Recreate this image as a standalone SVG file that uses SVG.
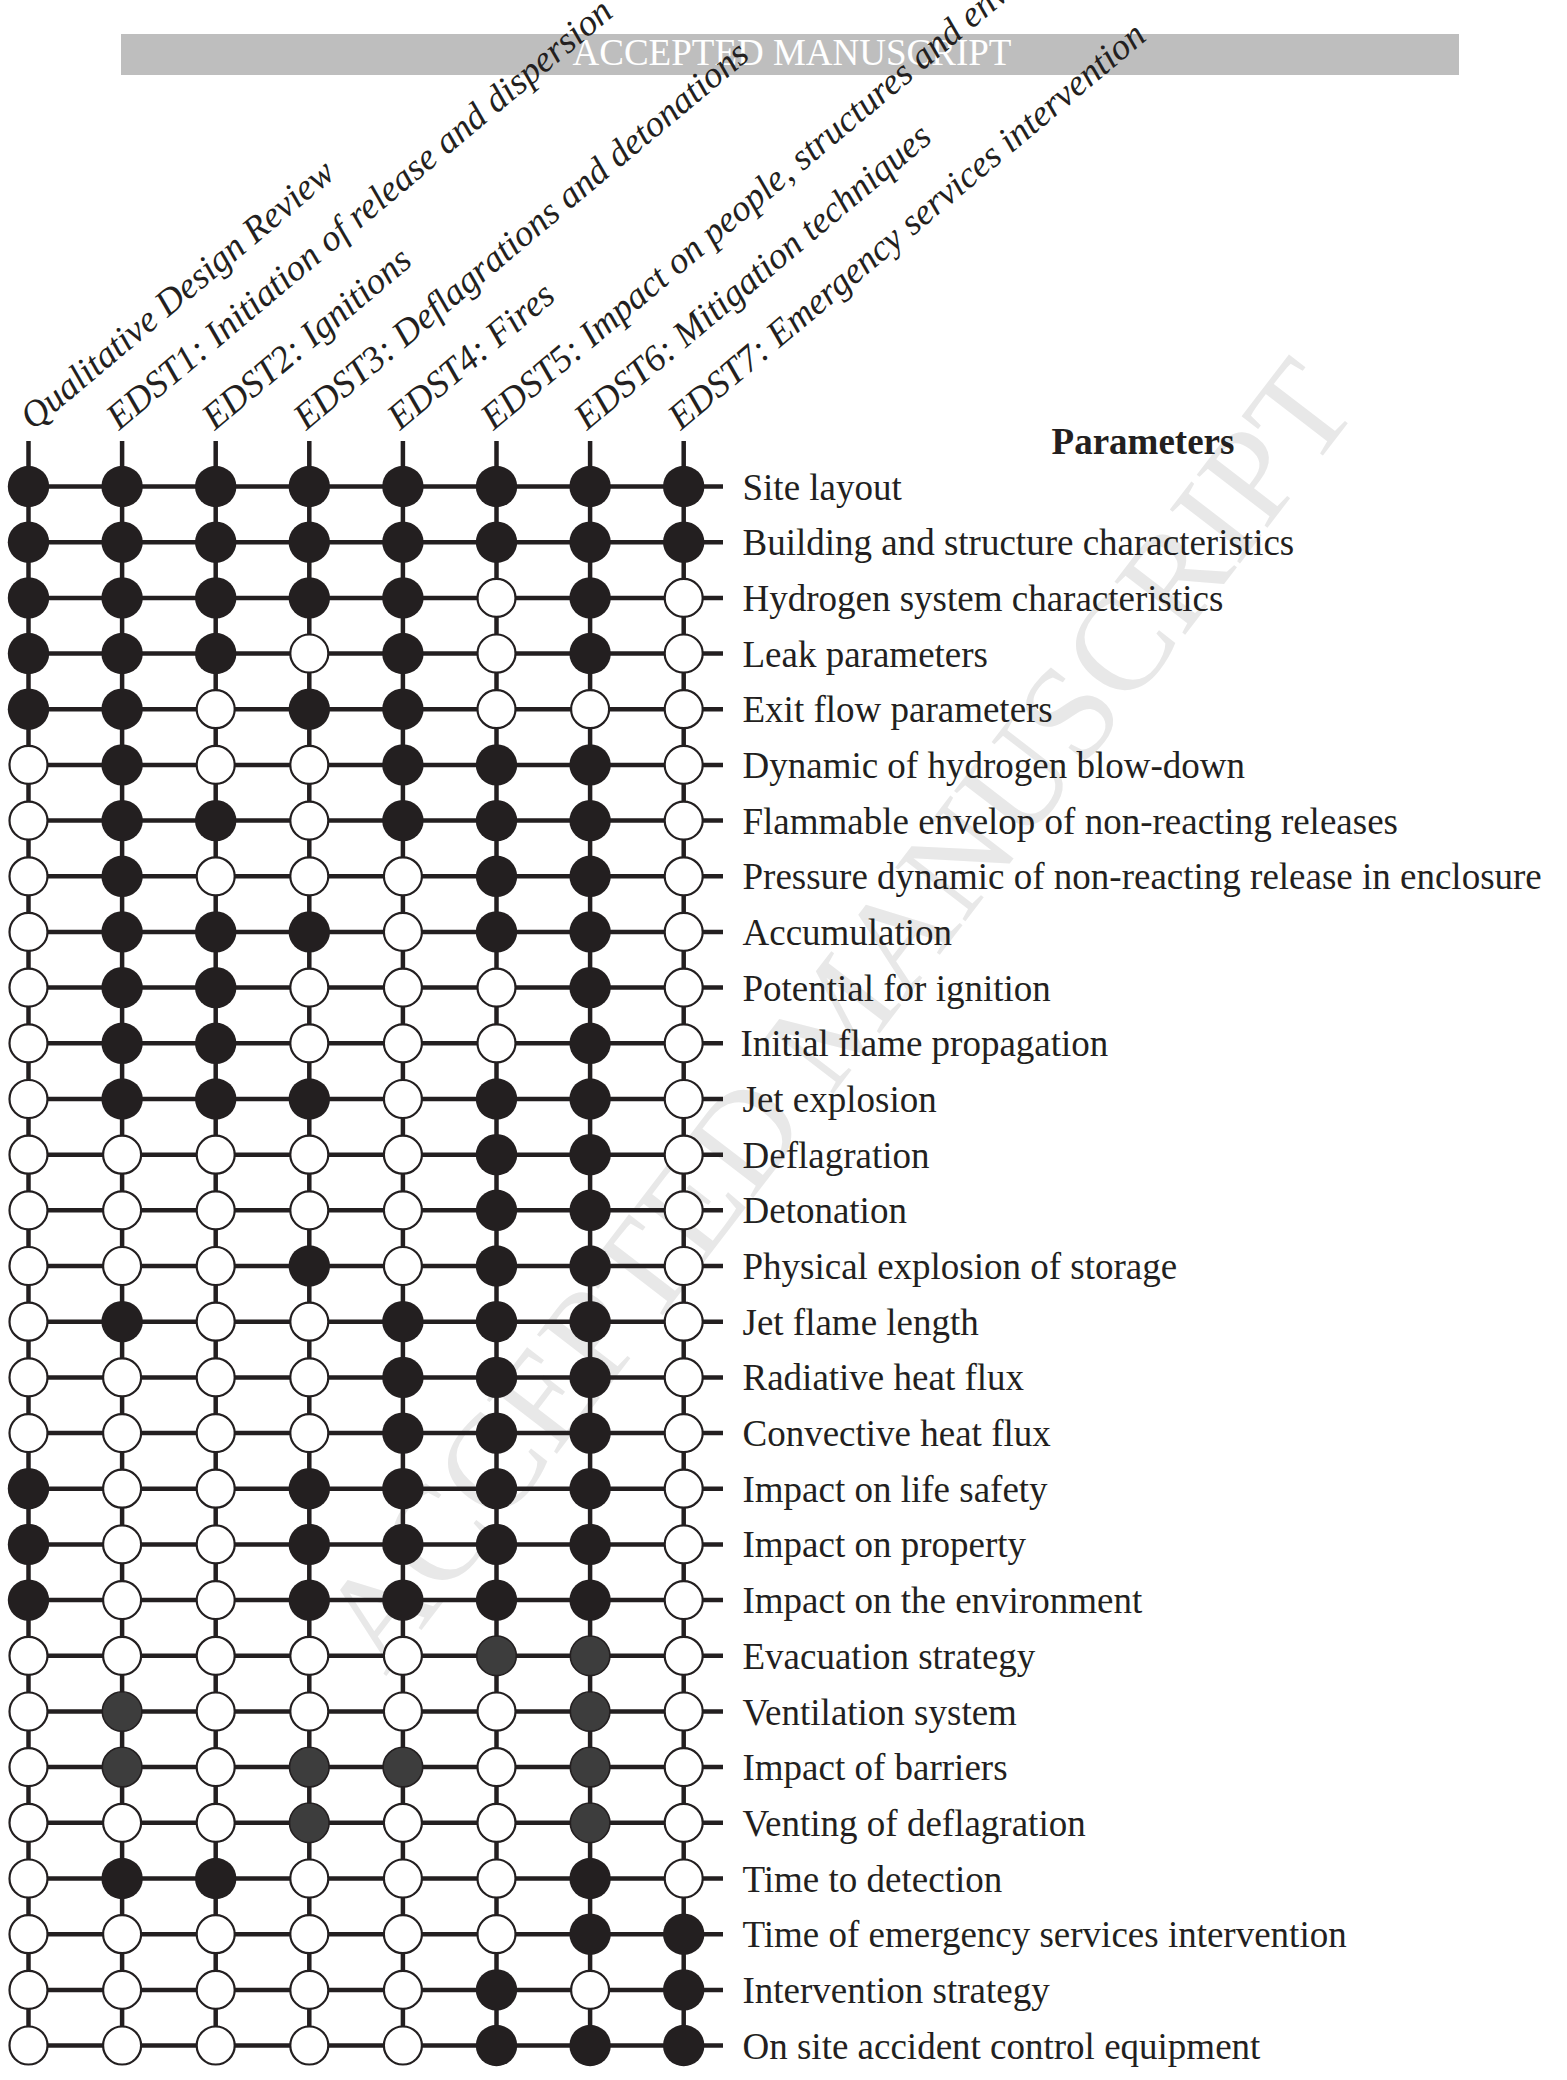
<svg xmlns="http://www.w3.org/2000/svg" width="1567" height="2080" viewBox="0 0 1567 2080">
<style>
.lbl{font-family:"Liberation Serif","Times New Roman",serif;font-size:37px;fill:#231f20}
.hdr{font-family:"Liberation Serif","Times New Roman",serif;font-size:37px;font-style:italic;fill:#231f20}
.ttl{font-family:"Liberation Serif","Times New Roman",serif;font-size:37px;font-weight:bold;fill:#231f20}
.wm{font-family:"Liberation Serif","Times New Roman",serif;font-size:135px;fill:#e8e8e8}
.bartxt{font-family:"Liberation Serif","Times New Roman",serif;font-size:37px;fill:#ffffff}
.ln{stroke:#231f20;stroke-width:4.5;fill:none}
</style>
<defs>
<circle id="F" r="20.7" fill="#231f20"/>
<circle id="O" r="19" fill="#ffffff" stroke="#231f20" stroke-width="2.2"/>
<circle id="G" r="19.8" fill="#3d3d3d" stroke="#231f20" stroke-width="1.6"/>
</defs>
<rect width="1567" height="2080" fill="#ffffff"/>
<g id="watermark"><text class="wm" text-anchor="middle" transform="translate(838 1015) rotate(-52.5)" dy="44">ACCEPTED MANUSCRIPT</text></g>
<g id="banner"><rect x="121" y="34" width="1338" height="41" fill="#bebebe"/><text class="bartxt" x="792" y="65" text-anchor="middle">ACCEPTED MANUSCRIPT</text></g>
<g id="connectors">
<line class="ln" x1="28.5" y1="441" x2="28.5" y2="2045.5"/>
<line class="ln" x1="122.1" y1="441" x2="122.1" y2="2045.5"/>
<line class="ln" x1="215.7" y1="441" x2="215.7" y2="2045.5"/>
<line class="ln" x1="309.3" y1="441" x2="309.3" y2="2045.5"/>
<line class="ln" x1="402.9" y1="441" x2="402.9" y2="2045.5"/>
<line class="ln" x1="496.5" y1="441" x2="496.5" y2="2045.5"/>
<line class="ln" x1="590.1" y1="441" x2="590.1" y2="2045.5"/>
<line class="ln" x1="683.7" y1="441" x2="683.7" y2="2045.5"/>
<line class="ln" x1="28.5" y1="486.5" x2="723" y2="486.5"/>
<line class="ln" x1="28.5" y1="542.2" x2="723" y2="542.2"/>
<line class="ln" x1="28.5" y1="597.9" x2="723" y2="597.9"/>
<line class="ln" x1="28.5" y1="653.5" x2="723" y2="653.5"/>
<line class="ln" x1="28.5" y1="709.2" x2="723" y2="709.2"/>
<line class="ln" x1="28.5" y1="764.9" x2="723" y2="764.9"/>
<line class="ln" x1="28.5" y1="820.6" x2="723" y2="820.6"/>
<line class="ln" x1="28.5" y1="876.3" x2="723" y2="876.3"/>
<line class="ln" x1="28.5" y1="931.9" x2="723" y2="931.9"/>
<line class="ln" x1="28.5" y1="987.6" x2="723" y2="987.6"/>
<line class="ln" x1="28.5" y1="1043.3" x2="723" y2="1043.3"/>
<line class="ln" x1="28.5" y1="1099" x2="723" y2="1099"/>
<line class="ln" x1="28.5" y1="1154.7" x2="723" y2="1154.7"/>
<line class="ln" x1="28.5" y1="1210.3" x2="723" y2="1210.3"/>
<line class="ln" x1="28.5" y1="1266" x2="723" y2="1266"/>
<line class="ln" x1="28.5" y1="1321.7" x2="723" y2="1321.7"/>
<line class="ln" x1="28.5" y1="1377.4" x2="723" y2="1377.4"/>
<line class="ln" x1="28.5" y1="1433.1" x2="723" y2="1433.1"/>
<line class="ln" x1="28.5" y1="1488.7" x2="723" y2="1488.7"/>
<line class="ln" x1="28.5" y1="1544.4" x2="723" y2="1544.4"/>
<line class="ln" x1="28.5" y1="1600.1" x2="723" y2="1600.1"/>
<line class="ln" x1="28.5" y1="1655.8" x2="723" y2="1655.8"/>
<line class="ln" x1="28.5" y1="1711.5" x2="723" y2="1711.5"/>
<line class="ln" x1="28.5" y1="1767.1" x2="723" y2="1767.1"/>
<line class="ln" x1="28.5" y1="1822.8" x2="723" y2="1822.8"/>
<line class="ln" x1="28.5" y1="1878.5" x2="723" y2="1878.5"/>
<line class="ln" x1="28.5" y1="1934.2" x2="723" y2="1934.2"/>
<line class="ln" x1="28.5" y1="1989.9" x2="723" y2="1989.9"/>
<line class="ln" x1="28.5" y1="2045.5" x2="723" y2="2045.5"/>
</g>
<g id="column-headers">
<g id="h0"><text class="hdr" transform="translate(33 431) rotate(-40)">Qualitative Design Review</text></g>
<g id="h1"><text class="hdr" transform="translate(119 431) rotate(-40)">EDST1: Initiation of release and dispersion</text></g>
<g id="h2"><text class="hdr" transform="translate(214.7 431) rotate(-40)">EDST2: Ignitions</text></g>
<g id="h3"><text class="hdr" transform="translate(306.3 431) rotate(-40)">EDST3: Deflagrations and detonations</text></g>
<g id="h4"><text class="hdr" transform="translate(399.9 431) rotate(-40)">EDST4: Fires</text></g>
<g id="h5"><text class="hdr" transform="translate(493.5 431) rotate(-40)">EDST5: Impact on people, structures and environment</text></g>
<g id="h6"><text class="hdr" transform="translate(587.1 431) rotate(-40)">EDST6: Mitigation techniques</text></g>
<g id="h7"><text class="hdr" transform="translate(680.7 431) rotate(-40)">EDST7: Emergency services intervention</text></g>
</g>
<g id="title"><text class="ttl" x="1143" y="453.5" text-anchor="middle">Parameters</text></g>
<g id="row-labels">
<g id="l0"><text class="lbl" x="742.5" y="499.5">Site layout</text></g>
<g id="l1"><text class="lbl" x="742.5" y="555.2">Building and structure characteristics</text></g>
<g id="l2"><text class="lbl" x="742.5" y="610.9">Hydrogen system characteristics</text></g>
<g id="l3"><text class="lbl" x="742.5" y="666.5">Leak parameters</text></g>
<g id="l4"><text class="lbl" x="742.5" y="722.2">Exit flow parameters</text></g>
<g id="l5"><text class="lbl" x="742.5" y="777.9">Dynamic of hydrogen blow-down</text></g>
<g id="l6"><text class="lbl" x="742.5" y="833.6">Flammable envelop of non-reacting releases</text></g>
<g id="l7"><text class="lbl" x="742.5" y="889.3">Pressure dynamic of non-reacting release in enclosure</text></g>
<g id="l8"><text class="lbl" x="742.5" y="944.9">Accumulation</text></g>
<g id="l9"><text class="lbl" x="742.5" y="1000.6">Potential for ignition</text></g>
<g id="l10"><text class="lbl" x="740.5" y="1056.3">Initial flame propagation</text></g>
<g id="l11"><text class="lbl" x="742.5" y="1112">Jet explosion</text></g>
<g id="l12"><text class="lbl" x="742.5" y="1167.7">Deflagration</text></g>
<g id="l13"><text class="lbl" x="742.5" y="1223.3">Detonation</text></g>
<g id="l14"><text class="lbl" x="742.5" y="1279">Physical explosion of storage</text></g>
<g id="l15"><text class="lbl" x="742.5" y="1334.7">Jet flame length</text></g>
<g id="l16"><text class="lbl" x="742.5" y="1390.4">Radiative heat flux</text></g>
<g id="l17"><text class="lbl" x="742.5" y="1446.1">Convective heat flux</text></g>
<g id="l18"><text class="lbl" x="742.5" y="1501.7">Impact on life safety</text></g>
<g id="l19"><text class="lbl" x="742.5" y="1557.4">Impact on property</text></g>
<g id="l20"><text class="lbl" x="742.5" y="1613.1">Impact on the environment</text></g>
<g id="l21"><text class="lbl" x="742.5" y="1668.8">Evacuation strategy</text></g>
<g id="l22"><text class="lbl" x="742.5" y="1724.5">Ventilation system</text></g>
<g id="l23"><text class="lbl" x="742.5" y="1780.1">Impact of barriers</text></g>
<g id="l24"><text class="lbl" x="742.5" y="1835.8">Venting of deflagration</text></g>
<g id="l25"><text class="lbl" x="742.5" y="1891.5">Time to detection</text></g>
<g id="l26"><text class="lbl" x="742.5" y="1947.2">Time of emergency services intervention</text></g>
<g id="l27"><text class="lbl" x="742.5" y="2002.9">Intervention strategy</text></g>
<g id="l28"><text class="lbl" x="742.5" y="2058.5">On site accident control equipment</text></g>
</g>
<g id="nodes">
<g id="n0-0"><use href="#F" x="28.5" y="486.5"/></g><g id="n0-1"><use href="#F" x="122.1" y="486.5"/></g><g id="n0-2"><use href="#F" x="215.7" y="486.5"/></g><g id="n0-3"><use href="#F" x="309.3" y="486.5"/></g><g id="n0-4"><use href="#F" x="402.9" y="486.5"/></g><g id="n0-5"><use href="#F" x="496.5" y="486.5"/></g><g id="n0-6"><use href="#F" x="590.1" y="486.5"/></g><g id="n0-7"><use href="#F" x="683.7" y="486.5"/></g>
<g id="n1-0"><use href="#F" x="28.5" y="542.2"/></g><g id="n1-1"><use href="#F" x="122.1" y="542.2"/></g><g id="n1-2"><use href="#F" x="215.7" y="542.2"/></g><g id="n1-3"><use href="#F" x="309.3" y="542.2"/></g><g id="n1-4"><use href="#F" x="402.9" y="542.2"/></g><g id="n1-5"><use href="#F" x="496.5" y="542.2"/></g><g id="n1-6"><use href="#F" x="590.1" y="542.2"/></g><g id="n1-7"><use href="#F" x="683.7" y="542.2"/></g>
<g id="n2-0"><use href="#F" x="28.5" y="597.9"/></g><g id="n2-1"><use href="#F" x="122.1" y="597.9"/></g><g id="n2-2"><use href="#F" x="215.7" y="597.9"/></g><g id="n2-3"><use href="#F" x="309.3" y="597.9"/></g><g id="n2-4"><use href="#F" x="402.9" y="597.9"/></g><g id="n2-5"><use href="#O" x="496.5" y="597.9"/></g><g id="n2-6"><use href="#F" x="590.1" y="597.9"/></g><g id="n2-7"><use href="#O" x="683.7" y="597.9"/></g>
<g id="n3-0"><use href="#F" x="28.5" y="653.5"/></g><g id="n3-1"><use href="#F" x="122.1" y="653.5"/></g><g id="n3-2"><use href="#F" x="215.7" y="653.5"/></g><g id="n3-3"><use href="#O" x="309.3" y="653.5"/></g><g id="n3-4"><use href="#F" x="402.9" y="653.5"/></g><g id="n3-5"><use href="#O" x="496.5" y="653.5"/></g><g id="n3-6"><use href="#F" x="590.1" y="653.5"/></g><g id="n3-7"><use href="#O" x="683.7" y="653.5"/></g>
<g id="n4-0"><use href="#F" x="28.5" y="709.2"/></g><g id="n4-1"><use href="#F" x="122.1" y="709.2"/></g><g id="n4-2"><use href="#O" x="215.7" y="709.2"/></g><g id="n4-3"><use href="#F" x="309.3" y="709.2"/></g><g id="n4-4"><use href="#F" x="402.9" y="709.2"/></g><g id="n4-5"><use href="#O" x="496.5" y="709.2"/></g><g id="n4-6"><use href="#O" x="590.1" y="709.2"/></g><g id="n4-7"><use href="#O" x="683.7" y="709.2"/></g>
<g id="n5-0"><use href="#O" x="28.5" y="764.9"/></g><g id="n5-1"><use href="#F" x="122.1" y="764.9"/></g><g id="n5-2"><use href="#O" x="215.7" y="764.9"/></g><g id="n5-3"><use href="#O" x="309.3" y="764.9"/></g><g id="n5-4"><use href="#F" x="402.9" y="764.9"/></g><g id="n5-5"><use href="#F" x="496.5" y="764.9"/></g><g id="n5-6"><use href="#F" x="590.1" y="764.9"/></g><g id="n5-7"><use href="#O" x="683.7" y="764.9"/></g>
<g id="n6-0"><use href="#O" x="28.5" y="820.6"/></g><g id="n6-1"><use href="#F" x="122.1" y="820.6"/></g><g id="n6-2"><use href="#F" x="215.7" y="820.6"/></g><g id="n6-3"><use href="#O" x="309.3" y="820.6"/></g><g id="n6-4"><use href="#F" x="402.9" y="820.6"/></g><g id="n6-5"><use href="#F" x="496.5" y="820.6"/></g><g id="n6-6"><use href="#F" x="590.1" y="820.6"/></g><g id="n6-7"><use href="#O" x="683.7" y="820.6"/></g>
<g id="n7-0"><use href="#O" x="28.5" y="876.3"/></g><g id="n7-1"><use href="#F" x="122.1" y="876.3"/></g><g id="n7-2"><use href="#O" x="215.7" y="876.3"/></g><g id="n7-3"><use href="#O" x="309.3" y="876.3"/></g><g id="n7-4"><use href="#O" x="402.9" y="876.3"/></g><g id="n7-5"><use href="#F" x="496.5" y="876.3"/></g><g id="n7-6"><use href="#F" x="590.1" y="876.3"/></g><g id="n7-7"><use href="#O" x="683.7" y="876.3"/></g>
<g id="n8-0"><use href="#O" x="28.5" y="931.9"/></g><g id="n8-1"><use href="#F" x="122.1" y="931.9"/></g><g id="n8-2"><use href="#F" x="215.7" y="931.9"/></g><g id="n8-3"><use href="#F" x="309.3" y="931.9"/></g><g id="n8-4"><use href="#O" x="402.9" y="931.9"/></g><g id="n8-5"><use href="#F" x="496.5" y="931.9"/></g><g id="n8-6"><use href="#F" x="590.1" y="931.9"/></g><g id="n8-7"><use href="#O" x="683.7" y="931.9"/></g>
<g id="n9-0"><use href="#O" x="28.5" y="987.6"/></g><g id="n9-1"><use href="#F" x="122.1" y="987.6"/></g><g id="n9-2"><use href="#F" x="215.7" y="987.6"/></g><g id="n9-3"><use href="#O" x="309.3" y="987.6"/></g><g id="n9-4"><use href="#O" x="402.9" y="987.6"/></g><g id="n9-5"><use href="#O" x="496.5" y="987.6"/></g><g id="n9-6"><use href="#F" x="590.1" y="987.6"/></g><g id="n9-7"><use href="#O" x="683.7" y="987.6"/></g>
<g id="n10-0"><use href="#O" x="28.5" y="1043.3"/></g><g id="n10-1"><use href="#F" x="122.1" y="1043.3"/></g><g id="n10-2"><use href="#F" x="215.7" y="1043.3"/></g><g id="n10-3"><use href="#O" x="309.3" y="1043.3"/></g><g id="n10-4"><use href="#O" x="402.9" y="1043.3"/></g><g id="n10-5"><use href="#O" x="496.5" y="1043.3"/></g><g id="n10-6"><use href="#F" x="590.1" y="1043.3"/></g><g id="n10-7"><use href="#O" x="683.7" y="1043.3"/></g>
<g id="n11-0"><use href="#O" x="28.5" y="1099"/></g><g id="n11-1"><use href="#F" x="122.1" y="1099"/></g><g id="n11-2"><use href="#F" x="215.7" y="1099"/></g><g id="n11-3"><use href="#F" x="309.3" y="1099"/></g><g id="n11-4"><use href="#O" x="402.9" y="1099"/></g><g id="n11-5"><use href="#F" x="496.5" y="1099"/></g><g id="n11-6"><use href="#F" x="590.1" y="1099"/></g><g id="n11-7"><use href="#O" x="683.7" y="1099"/></g>
<g id="n12-0"><use href="#O" x="28.5" y="1154.7"/></g><g id="n12-1"><use href="#O" x="122.1" y="1154.7"/></g><g id="n12-2"><use href="#O" x="215.7" y="1154.7"/></g><g id="n12-3"><use href="#O" x="309.3" y="1154.7"/></g><g id="n12-4"><use href="#O" x="402.9" y="1154.7"/></g><g id="n12-5"><use href="#F" x="496.5" y="1154.7"/></g><g id="n12-6"><use href="#F" x="590.1" y="1154.7"/></g><g id="n12-7"><use href="#O" x="683.7" y="1154.7"/></g>
<g id="n13-0"><use href="#O" x="28.5" y="1210.3"/></g><g id="n13-1"><use href="#O" x="122.1" y="1210.3"/></g><g id="n13-2"><use href="#O" x="215.7" y="1210.3"/></g><g id="n13-3"><use href="#O" x="309.3" y="1210.3"/></g><g id="n13-4"><use href="#O" x="402.9" y="1210.3"/></g><g id="n13-5"><use href="#F" x="496.5" y="1210.3"/></g><g id="n13-6"><use href="#F" x="590.1" y="1210.3"/></g><g id="n13-7"><use href="#O" x="683.7" y="1210.3"/></g>
<g id="n14-0"><use href="#O" x="28.5" y="1266"/></g><g id="n14-1"><use href="#O" x="122.1" y="1266"/></g><g id="n14-2"><use href="#O" x="215.7" y="1266"/></g><g id="n14-3"><use href="#F" x="309.3" y="1266"/></g><g id="n14-4"><use href="#O" x="402.9" y="1266"/></g><g id="n14-5"><use href="#F" x="496.5" y="1266"/></g><g id="n14-6"><use href="#F" x="590.1" y="1266"/></g><g id="n14-7"><use href="#O" x="683.7" y="1266"/></g>
<g id="n15-0"><use href="#O" x="28.5" y="1321.7"/></g><g id="n15-1"><use href="#F" x="122.1" y="1321.7"/></g><g id="n15-2"><use href="#O" x="215.7" y="1321.7"/></g><g id="n15-3"><use href="#O" x="309.3" y="1321.7"/></g><g id="n15-4"><use href="#F" x="402.9" y="1321.7"/></g><g id="n15-5"><use href="#F" x="496.5" y="1321.7"/></g><g id="n15-6"><use href="#F" x="590.1" y="1321.7"/></g><g id="n15-7"><use href="#O" x="683.7" y="1321.7"/></g>
<g id="n16-0"><use href="#O" x="28.5" y="1377.4"/></g><g id="n16-1"><use href="#O" x="122.1" y="1377.4"/></g><g id="n16-2"><use href="#O" x="215.7" y="1377.4"/></g><g id="n16-3"><use href="#O" x="309.3" y="1377.4"/></g><g id="n16-4"><use href="#F" x="402.9" y="1377.4"/></g><g id="n16-5"><use href="#F" x="496.5" y="1377.4"/></g><g id="n16-6"><use href="#F" x="590.1" y="1377.4"/></g><g id="n16-7"><use href="#O" x="683.7" y="1377.4"/></g>
<g id="n17-0"><use href="#O" x="28.5" y="1433.1"/></g><g id="n17-1"><use href="#O" x="122.1" y="1433.1"/></g><g id="n17-2"><use href="#O" x="215.7" y="1433.1"/></g><g id="n17-3"><use href="#O" x="309.3" y="1433.1"/></g><g id="n17-4"><use href="#F" x="402.9" y="1433.1"/></g><g id="n17-5"><use href="#F" x="496.5" y="1433.1"/></g><g id="n17-6"><use href="#F" x="590.1" y="1433.1"/></g><g id="n17-7"><use href="#O" x="683.7" y="1433.1"/></g>
<g id="n18-0"><use href="#F" x="28.5" y="1488.7"/></g><g id="n18-1"><use href="#O" x="122.1" y="1488.7"/></g><g id="n18-2"><use href="#O" x="215.7" y="1488.7"/></g><g id="n18-3"><use href="#F" x="309.3" y="1488.7"/></g><g id="n18-4"><use href="#F" x="402.9" y="1488.7"/></g><g id="n18-5"><use href="#F" x="496.5" y="1488.7"/></g><g id="n18-6"><use href="#F" x="590.1" y="1488.7"/></g><g id="n18-7"><use href="#O" x="683.7" y="1488.7"/></g>
<g id="n19-0"><use href="#F" x="28.5" y="1544.4"/></g><g id="n19-1"><use href="#O" x="122.1" y="1544.4"/></g><g id="n19-2"><use href="#O" x="215.7" y="1544.4"/></g><g id="n19-3"><use href="#F" x="309.3" y="1544.4"/></g><g id="n19-4"><use href="#F" x="402.9" y="1544.4"/></g><g id="n19-5"><use href="#F" x="496.5" y="1544.4"/></g><g id="n19-6"><use href="#F" x="590.1" y="1544.4"/></g><g id="n19-7"><use href="#O" x="683.7" y="1544.4"/></g>
<g id="n20-0"><use href="#F" x="28.5" y="1600.1"/></g><g id="n20-1"><use href="#O" x="122.1" y="1600.1"/></g><g id="n20-2"><use href="#O" x="215.7" y="1600.1"/></g><g id="n20-3"><use href="#F" x="309.3" y="1600.1"/></g><g id="n20-4"><use href="#F" x="402.9" y="1600.1"/></g><g id="n20-5"><use href="#F" x="496.5" y="1600.1"/></g><g id="n20-6"><use href="#F" x="590.1" y="1600.1"/></g><g id="n20-7"><use href="#O" x="683.7" y="1600.1"/></g>
<g id="n21-0"><use href="#O" x="28.5" y="1655.8"/></g><g id="n21-1"><use href="#O" x="122.1" y="1655.8"/></g><g id="n21-2"><use href="#O" x="215.7" y="1655.8"/></g><g id="n21-3"><use href="#O" x="309.3" y="1655.8"/></g><g id="n21-4"><use href="#O" x="402.9" y="1655.8"/></g><g id="n21-5"><use href="#G" x="496.5" y="1655.8"/></g><g id="n21-6"><use href="#G" x="590.1" y="1655.8"/></g><g id="n21-7"><use href="#O" x="683.7" y="1655.8"/></g>
<g id="n22-0"><use href="#O" x="28.5" y="1711.5"/></g><g id="n22-1"><use href="#G" x="122.1" y="1711.5"/></g><g id="n22-2"><use href="#O" x="215.7" y="1711.5"/></g><g id="n22-3"><use href="#O" x="309.3" y="1711.5"/></g><g id="n22-4"><use href="#O" x="402.9" y="1711.5"/></g><g id="n22-5"><use href="#O" x="496.5" y="1711.5"/></g><g id="n22-6"><use href="#G" x="590.1" y="1711.5"/></g><g id="n22-7"><use href="#O" x="683.7" y="1711.5"/></g>
<g id="n23-0"><use href="#O" x="28.5" y="1767.1"/></g><g id="n23-1"><use href="#G" x="122.1" y="1767.1"/></g><g id="n23-2"><use href="#O" x="215.7" y="1767.1"/></g><g id="n23-3"><use href="#G" x="309.3" y="1767.1"/></g><g id="n23-4"><use href="#G" x="402.9" y="1767.1"/></g><g id="n23-5"><use href="#O" x="496.5" y="1767.1"/></g><g id="n23-6"><use href="#G" x="590.1" y="1767.1"/></g><g id="n23-7"><use href="#O" x="683.7" y="1767.1"/></g>
<g id="n24-0"><use href="#O" x="28.5" y="1822.8"/></g><g id="n24-1"><use href="#O" x="122.1" y="1822.8"/></g><g id="n24-2"><use href="#O" x="215.7" y="1822.8"/></g><g id="n24-3"><use href="#G" x="309.3" y="1822.8"/></g><g id="n24-4"><use href="#O" x="402.9" y="1822.8"/></g><g id="n24-5"><use href="#O" x="496.5" y="1822.8"/></g><g id="n24-6"><use href="#G" x="590.1" y="1822.8"/></g><g id="n24-7"><use href="#O" x="683.7" y="1822.8"/></g>
<g id="n25-0"><use href="#O" x="28.5" y="1878.5"/></g><g id="n25-1"><use href="#F" x="122.1" y="1878.5"/></g><g id="n25-2"><use href="#F" x="215.7" y="1878.5"/></g><g id="n25-3"><use href="#O" x="309.3" y="1878.5"/></g><g id="n25-4"><use href="#O" x="402.9" y="1878.5"/></g><g id="n25-5"><use href="#O" x="496.5" y="1878.5"/></g><g id="n25-6"><use href="#F" x="590.1" y="1878.5"/></g><g id="n25-7"><use href="#O" x="683.7" y="1878.5"/></g>
<g id="n26-0"><use href="#O" x="28.5" y="1934.2"/></g><g id="n26-1"><use href="#O" x="122.1" y="1934.2"/></g><g id="n26-2"><use href="#O" x="215.7" y="1934.2"/></g><g id="n26-3"><use href="#O" x="309.3" y="1934.2"/></g><g id="n26-4"><use href="#O" x="402.9" y="1934.2"/></g><g id="n26-5"><use href="#O" x="496.5" y="1934.2"/></g><g id="n26-6"><use href="#F" x="590.1" y="1934.2"/></g><g id="n26-7"><use href="#F" x="683.7" y="1934.2"/></g>
<g id="n27-0"><use href="#O" x="28.5" y="1989.9"/></g><g id="n27-1"><use href="#O" x="122.1" y="1989.9"/></g><g id="n27-2"><use href="#O" x="215.7" y="1989.9"/></g><g id="n27-3"><use href="#O" x="309.3" y="1989.9"/></g><g id="n27-4"><use href="#O" x="402.9" y="1989.9"/></g><g id="n27-5"><use href="#F" x="496.5" y="1989.9"/></g><g id="n27-6"><use href="#O" x="590.1" y="1989.9"/></g><g id="n27-7"><use href="#F" x="683.7" y="1989.9"/></g>
<g id="n28-0"><use href="#O" x="28.5" y="2045.5"/></g><g id="n28-1"><use href="#O" x="122.1" y="2045.5"/></g><g id="n28-2"><use href="#O" x="215.7" y="2045.5"/></g><g id="n28-3"><use href="#O" x="309.3" y="2045.5"/></g><g id="n28-4"><use href="#O" x="402.9" y="2045.5"/></g><g id="n28-5"><use href="#F" x="496.5" y="2045.5"/></g><g id="n28-6"><use href="#F" x="590.1" y="2045.5"/></g><g id="n28-7"><use href="#F" x="683.7" y="2045.5"/></g>
</g>
</svg>
